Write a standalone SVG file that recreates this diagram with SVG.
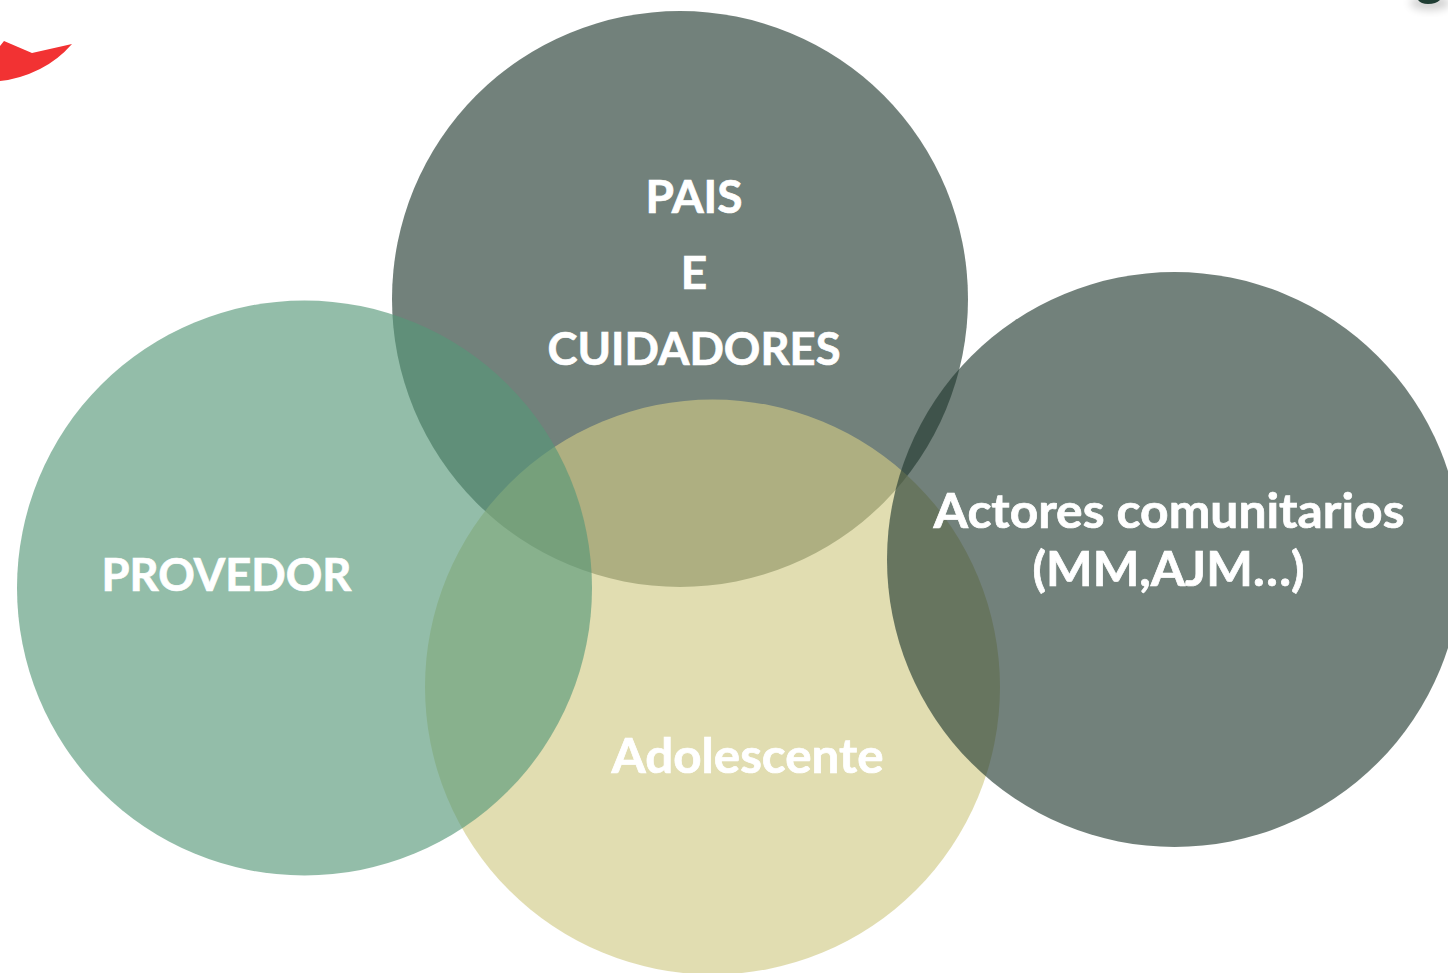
<svg xmlns="http://www.w3.org/2000/svg" width="1448" height="973" viewBox="0 0 1448 973">
<style>
.c{fill-opacity:.64}
.t{font-family:Lato,"Liberation Sans",sans-serif;font-weight:700;fill:#fff;stroke:#fff;stroke-width:.7px;font-size:46px;text-anchor:middle}
.l{font-size:48px}
</style>
<defs><filter id="b" x="-50%" y="-50%" width="200%" height="200%"><feGaussianBlur stdDeviation="4"/></filter></defs>
<rect width="1448" height="973" fill="#fff"/>
<path id="red-mark" d="M0,46L4,41L32,53L72,44Q58,60 40,69Q20,79 0,81Z" fill="#f23233"/>
<g id="corner-mark"><ellipse cx="1430" cy="3" rx="20" ry="7" fill="#000" opacity=".18" filter="url(#b)"/><path d="M1418,0H1440Q1436,4 1428,4Q1421,4 1418,0Z" fill="#1f3d33"/></g>
<g id="connectors"></g>
<g id="node-pais"><circle class="c" cx="680" cy="299" r="288" fill="#233a30"/></g>
<g id="node-adolescente"><circle class="c" cx="712.500" cy="687" r="287.500" fill="#d0ca85"/></g>
<g id="node-provedor"><circle class="c" cx="304.500" cy="588" r="287.500" fill="#569778"/></g>
<g id="node-actores"><circle class="c" cx="1174.500" cy="559.500" r="287.500" fill="#233a30"/></g>
<g id="labels">
<text class="t" x="694" y="213" textLength="97" lengthAdjust="spacingAndGlyphs">PAIS</text>
<text class="t" x="694" y="289">E</text>
<text class="t" x="694" y="365" textLength="293" lengthAdjust="spacingAndGlyphs">CUIDADORES</text>
<text class="t" x="226.500" y="591" textLength="250" lengthAdjust="spacingAndGlyphs">PROVEDOR</text>
<text class="t l" x="747.500" y="773" textLength="272" lengthAdjust="spacingAndGlyphs">Adolescente</text>
<text class="t l" x="1169" y="528" textLength="471" lengthAdjust="spacingAndGlyphs">Actores comunitarios</text>
<text class="t l" x="1168.500" y="586" textLength="272" lengthAdjust="spacingAndGlyphs">(MM,AJM…)</text>
</g>
</svg>
